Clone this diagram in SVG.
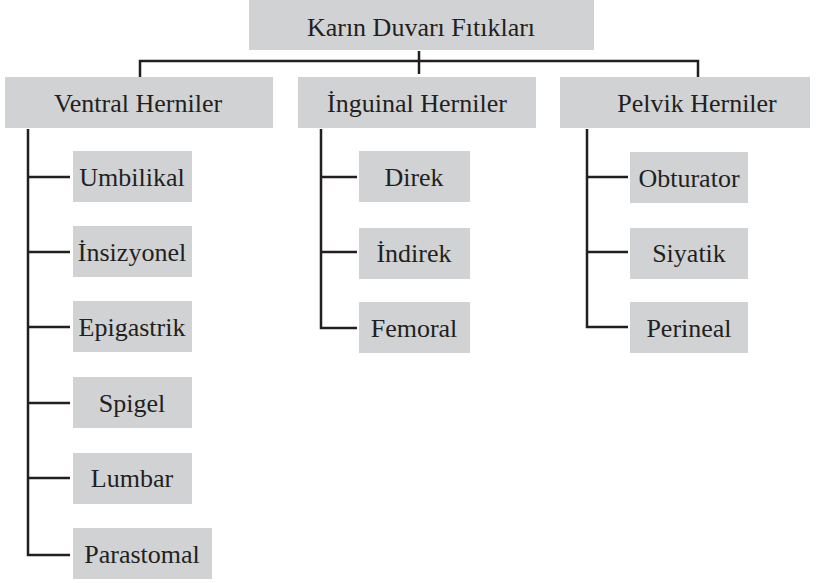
<svg xmlns="http://www.w3.org/2000/svg" width="825" height="583" viewBox="0 0 825 583">
<style>
.box{fill:#d1d2d4}
.t{font-family:"Liberation Serif","DejaVu Serif",serif;font-size:26px;fill:#231f20;text-anchor:middle;dominant-baseline:central}
.ln{stroke:#231f20;stroke-width:2.5;fill:none}
</style>
<rect width="825" height="583" fill="#fff"/>
<g id="connectors">
<path class="ln" d="M140 77 V61 H698 V77"/>
<path class="ln" d="M419 51 V74"/>
<path class="ln" d="M28 129 V555 H70"/>
<path class="ln" d="M28 177 H70 M28 252 H70 M28 327 H70 M28 403 H70 M28 478 H70"/>
<path class="ln" d="M321 129 V328 H357"/>
<path class="ln" d="M321 177 H357 M321 252 H357"/>
<path class="ln" d="M587 129 V327 H628"/>
<path class="ln" d="M587 177 H628 M587 252 H628"/>
</g>
<g id="root"><rect class="box" x="249" y="0" width="345" height="50"/><text class="t" x="421" y="27">Karın Duvarı Fıtıkları</text></g>
<g id="ventral"><rect class="box" x="5" y="77" width="268" height="51"/><text class="t" x="138" y="103">Ventral Herniler</text></g>
<g id="inguinal"><rect class="box" x="298" y="77" width="238" height="51"/><text class="t" x="417" y="103">İnguinal Herniler</text></g>
<g id="pelvik"><rect class="box" x="560" y="77" width="250" height="51"/><text class="t" x="697" y="103">Pelvik Herniler</text></g>
<g id="umbilikal"><rect class="box" x="73" y="151" width="119" height="51"/><text class="t" x="132" y="177">Umbilikal</text></g>
<g id="insizyonel"><rect class="box" x="73" y="226" width="119" height="51"/><text class="t" x="132" y="252">İnsizyonel</text></g>
<g id="epigastrik"><rect class="box" x="73" y="301" width="119" height="51"/><text class="t" x="132" y="327">Epigastrik</text></g>
<g id="spigel"><rect class="box" x="73" y="377" width="119" height="51"/><text class="t" x="132" y="403">Spigel</text></g>
<g id="lumbar"><rect class="box" x="73" y="453" width="119" height="51"/><text class="t" x="132" y="478">Lumbar</text></g>
<g id="parastomal"><rect class="box" x="73" y="528" width="139" height="51"/><text class="t" x="142" y="554">Parastomal</text></g>
<g id="direk"><rect class="box" x="359" y="151" width="111" height="51"/><text class="t" x="414" y="177">Direk</text></g>
<g id="indirek"><rect class="box" x="359" y="228" width="111" height="51"/><text class="t" x="414" y="253">İndirek</text></g>
<g id="femoral"><rect class="box" x="359" y="302" width="111" height="51"/><text class="t" x="414" y="328">Femoral</text></g>
<g id="obturator"><rect class="box" x="630" y="152" width="118" height="51"/><text class="t" x="689" y="178">Obturator</text></g>
<g id="siyatik"><rect class="box" x="630" y="228" width="118" height="51"/><text class="t" x="689" y="253">Siyatik</text></g>
<g id="perineal"><rect class="box" x="630" y="302" width="118" height="51"/><text class="t" x="689" y="328">Perineal</text></g>
</svg>
